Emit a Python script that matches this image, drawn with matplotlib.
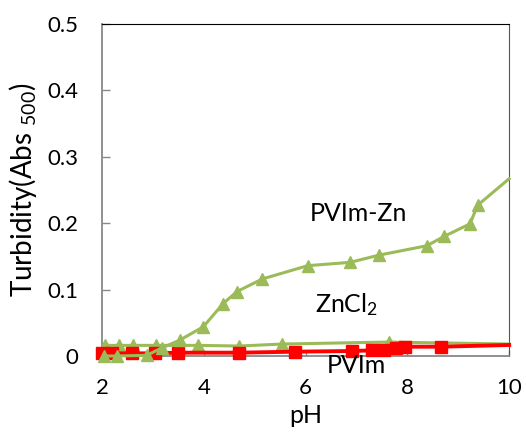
import matplotlib
matplotlib.use('Agg')
import matplotlib.pyplot as plt

plt.rcParams['font.family'] = ['Lato', 'DejaVu Sans']
plt.rcParams['mathtext.fontset'] = 'custom'
plt.rcParams['mathtext.rm'] = 'Lato'
plt.rcParams['mathtext.it'] = 'Lato'

# PVIm-Zn (green triangles, rising)
ph_pvimzn = [2.03, 2.3, 2.88, 3.17, 3.53, 3.99, 4.38, 4.65, 5.15, 6.04, 6.87, 7.45, 8.38, 8.72, 9.23, 9.38, 10.0]
abs_pvimzn = [0.0, 0.0, 0.001, 0.012, 0.024, 0.044, 0.079, 0.097, 0.116, 0.136, 0.141, 0.152, 0.166, 0.180, 0.199, 0.227, 0.267]

# ZnCl2 (green triangles, flat)
ph_zncl2 = [2.05, 2.33, 2.6, 3.06, 3.89, 4.69, 5.54, 7.63, 10.0]
abs_zncl2 = [0.016, 0.016, 0.016, 0.016, 0.016, 0.015, 0.018, 0.021, 0.018]

# PVIm (red squares)
ph_pvim = [2.0, 2.2, 2.58, 3.04, 3.5, 4.7, 5.79, 6.92, 7.31, 7.55, 7.77, 7.95, 8.67, 10.0]
abs_pvim = [0.004, 0.004, 0.004, 0.004, 0.005, 0.005, 0.0065, 0.0075, 0.0085, 0.0095, 0.0125, 0.014, 0.014, 0.0166]

green = '#9BBB59'
red = '#FF0000'

fig = plt.figure(figsize=(5.26, 4.36), dpi=100)
ax = fig.add_axes([0.194, 0.1835, 0.774, 0.7615])

ax.plot(ph_zncl2, abs_zncl2, color=green, lw=2.2, marker='^', ms=8,
        markevery=list(range(len(ph_zncl2) - 1)), clip_on=False, zorder=3)
ax.plot(ph_pvim, abs_pvim, color=red, lw=2.8, marker='s', ms=8,
        markevery=list(range(len(ph_pvim) - 1)), clip_on=False, zorder=4)
ax.plot(ph_pvimzn, abs_pvimzn, color=green, lw=2.2, marker='^', ms=8,
        markevery=list(range(len(ph_pvimzn) - 1)), clip_on=False, zorder=5)

ax.set_xlim(2, 10)
ax.set_ylim(0, 0.5)
ax.set_xticks([2, 4, 6, 8, 10])
ax.set_yticks([0, 0.1, 0.2, 0.3, 0.4, 0.5])
ax.set_yticklabels(['0', '0.1', '0.2', '0.3', '0.4', '0.5'])

ax.tick_params(axis='both', direction='in', length=6, width=1, color='#888888',
               labelsize=16, pad=17)
ax.tick_params(axis='x', length=4, pad=16)
for s in ['left', 'bottom']:
    ax.spines[s].set_color('#888888')
    ax.spines[s].set_linewidth(1.3)
ax.spines['top'].set_color('black')
ax.spines['right'].set_color('#555555')

ax.set_xlabel('pH', fontsize=18, labelpad=4)
ax.set_ylabel(r'Turbidity(Abs $_{500}$)', fontsize=20, labelpad=6)

ax.text(7.03, 0.214, 'PVIm-Zn', fontsize=18, ha='center', va='center')
ax.text(6.81, 0.077, r'ZnCl$_2$', fontsize=18, ha='center', va='center')
ax.text(7.0, -0.0136, 'PVIm', fontsize=18, ha='center', va='center', zorder=6)

fig.savefig('out.png', dpi=100)
